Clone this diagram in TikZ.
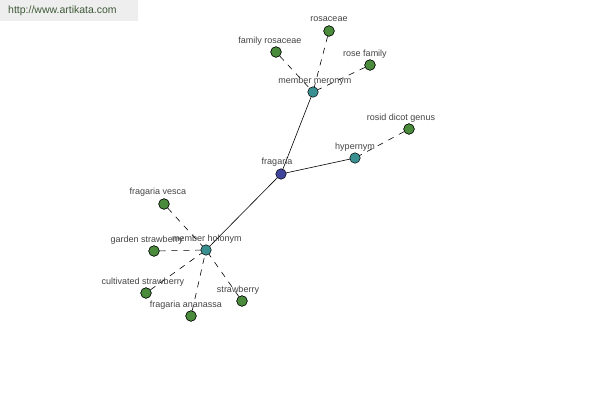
\documentclass[tikz,border=0pt]{standalone}
\usepackage{fontspec}
\setmainfont{Liberation Sans}
\begin{document}
\begin{tikzpicture}[x=1pt,y=-1pt,
  dot/.style={circle,draw=black,line width=0.5pt,minimum size=10.5pt,inner sep=0pt},
  leaf/.style={dot,fill=leafc},
  hub/.style={dot,fill=hubc},
  root/.style={dot,fill=rootc},
  lbl/.style={font=\fontsize{9}{10}\selectfont,text=labc,inner sep=0pt},
  solidedge/.style={draw=black,line width=0.6pt},
  dashedge/.style={draw=black,line width=0.6pt,dash pattern=on 6pt off 6pt}]
\definecolor{leafc}{HTML}{4A8C3C}
\definecolor{hubc}{HTML}{3A9090}
\definecolor{rootc}{HTML}{40449C}
\definecolor{labc}{HTML}{444444}
\definecolor{bannerbg}{HTML}{EEEEEE}
\definecolor{bannertx}{HTML}{3E5A38}
\useasboundingbox[fill=white] (0,0) rectangle (600,400);
\fill[bannerbg] (0,0) rectangle (138,21);
\node[font=\fontsize{10.5}{12}\selectfont,text=bannertx,anchor=west,inner sep=0pt] (banner) at (8,11) {http://www.artikata.com};
% edges first
\coordinate (pfr) at (281,174);
\coordinate (pmm) at (313,92);
\coordinate (phy) at (355,158);
\coordinate (pmh) at (206,250);
\node[leaf] (ros) at (329,31) {};
\node[leaf] (fro) at (276,52) {};
\node[leaf] (rof) at (370,65) {};
\node[leaf] (rdg) at (409,129) {};
\node[leaf] (fve) at (164,204) {};
\node[leaf] (gst) at (154,251) {};
\node[leaf] (cst) at (146,293) {};
\node[leaf] (fan) at (191,316) {};
\node[leaf] (stb) at (242,301) {};
\draw[solidedge] (pfr) -- (pmm);
\draw[solidedge] (pfr) -- (phy);
\draw[solidedge] (pfr) -- (pmh);
\draw[dashedge] (ros) -- (pmm);
\draw[dashedge] (fro) -- (pmm);
\draw[dashedge] (rof) -- (pmm);
\draw[dashedge] (rdg) -- (phy);
\draw[dashedge] (fve) -- (pmh);
\draw[dashedge] (gst) -- (pmh);
\draw[dashedge] (cst) -- (pmh);
\draw[dashedge] (fan) -- (pmh);
\draw[dashedge] (stb) -- (pmh);
\node[root] (fr) at (pfr) {};
\node[hub] (mm) at (pmm) {};
\node[hub] (hy) at (phy) {};
\node[hub] (mh) at (pmh) {};
\node[leaf] at (ros) {};
\node[leaf] at (fro) {};
\node[leaf] at (rof) {};
\node[leaf] at (rdg) {};
\node[leaf] at (fve) {};
\node[leaf] at (gst) {};
\node[leaf] at (cst) {};
\node[leaf] at (fan) {};
\node[leaf] at (stb) {};
% labels
\node[lbl] (lfr) at (277,162) {fragaria};
\node[lbl] (lmm) at (315,81) {member meronym};
\node[lbl] (lhy) at (355,147) {hypernym};
\node[lbl] (lmh) at (207,239) {member holonym};
\node[lbl] (lros) at (329,19) {rosaceae};
\node[lbl] (lfro) at (270,41) {family rosaceae};
\node[lbl] (lrof) at (365,54) {rose family};
\node[lbl] (lrdg) at (401,118) {rosid dicot genus};
\node[lbl] (lfve) at (158,192) {fragaria vesca};
\node[lbl] (lgst) at (147,240) {garden strawberry};
\node[lbl] (lcst) at (143,282) {cultivated strawberry};
\node[lbl] (lfan) at (186,305) {fragaria ananassa};
\node[lbl] (lstb) at (238,290) {strawberry};
\end{tikzpicture}
\end{document}
